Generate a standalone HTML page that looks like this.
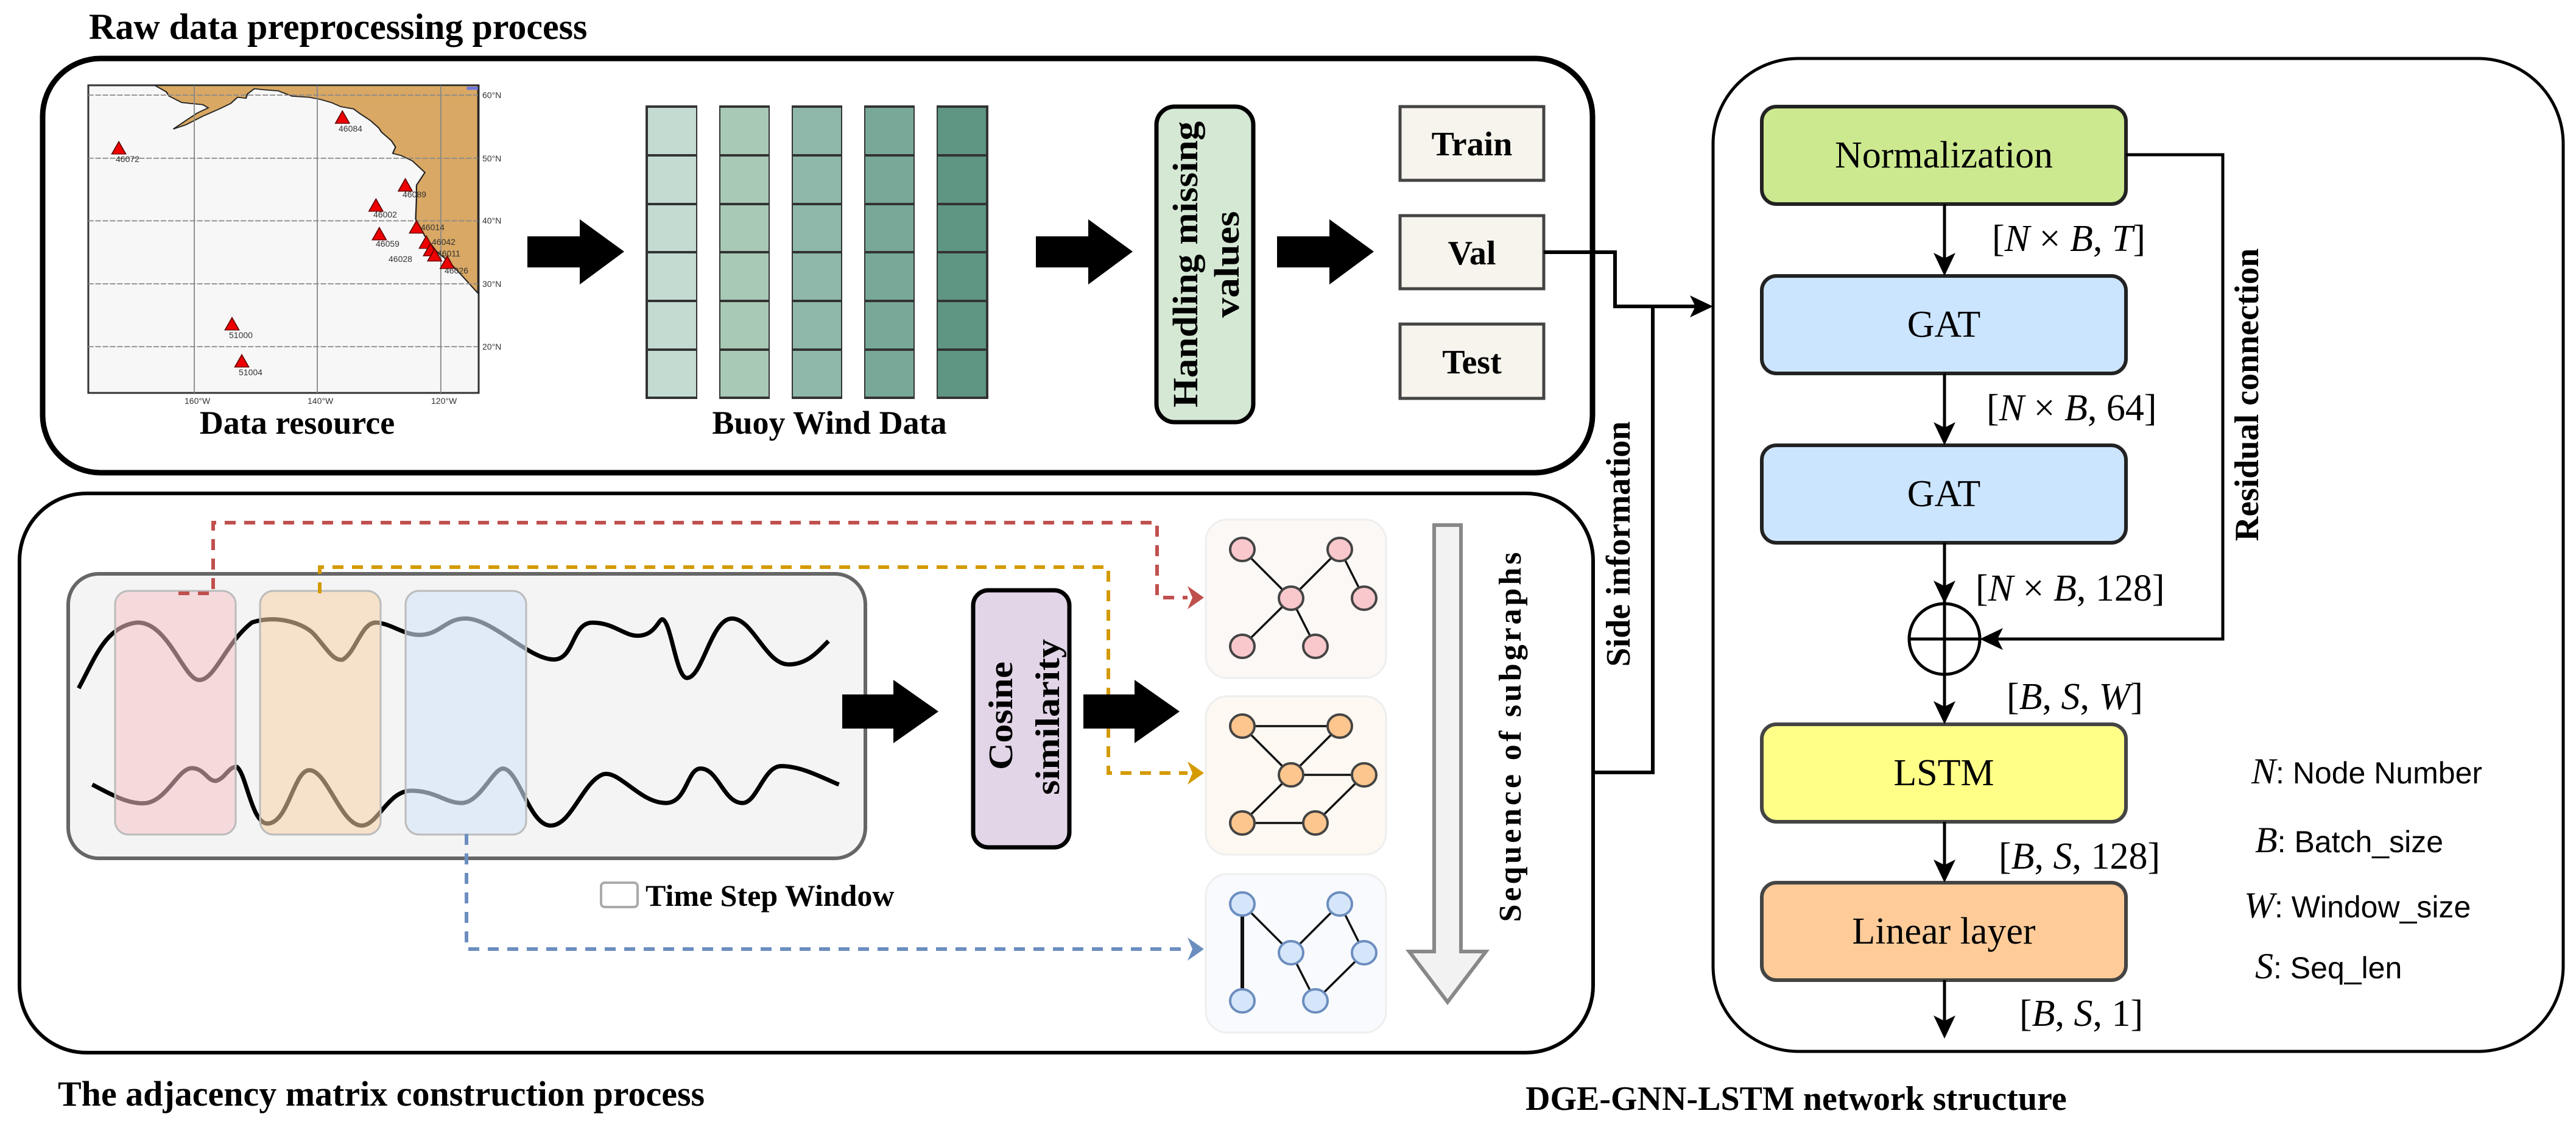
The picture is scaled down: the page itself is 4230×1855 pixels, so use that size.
<!DOCTYPE html>
<html><head><meta charset="utf-8"><style>
html,body{margin:0;padding:0;background:#fff}
svg{display:block}
.t{font-family:"Liberation Serif",serif;font-weight:bold}
.s{font-family:"Liberation Serif",serif}
.m{font-family:"Liberation Serif",serif;font-style:italic}
.sa{font-family:"Liberation Sans",sans-serif}
</style></head><body>
<svg width="4230" height="1855" viewBox="0 0 4230 1855" xmlns="http://www.w3.org/2000/svg">

<!-- Titles -->
<text x="146" y="64" class="t" font-size="60">Raw data preprocessing process</text>
<text x="95" y="1815" class="t" font-size="58">The adjacency matrix construction process</text>
<text x="2505" y="1822" class="t" font-size="56">DGE-GNN-LSTM network structure</text>

<!-- Top box -->
<rect x="70" y="96" width="2545" height="680" rx="95" fill="#fff" stroke="#000" stroke-width="9"/>

<!-- Map -->
<rect x="145" y="140" width="641" height="505" fill="#f7f7f7" stroke="#333" stroke-width="3"/>
<g transform="translate(140,130) scale(0.459,0.348)">
<path d="M250,30 L290,60 L300,80 L345,110 L380,115 L420,120 L440,135 L400,160 L360,195 L315,235 L360,215 L420,175 L480,140 L520,115 L545,85 L575,90 L580,70 L605,45 L640,50 L690,55 L740,80 L800,85 L840,95 L880,110 L915,130 L960,140 L980,160 L1020,195 L1050,230 L1060,250 L1095,290 L1110,320 L1100,350 L1130,360 L1170,385 L1215,440 L1200,470 L1185,500 L1185,560 L1182,660 L1215,740 L1255,810 L1300,860 L1350,930 L1405,1010 L1405,30 Z" fill="#d9a864" stroke="#222" stroke-width="5"/>
<g stroke="#888" stroke-width="5" stroke-dasharray="20,6" fill="none">
<line x1="10" y1="75" x2="1405" y2="75"/><line x1="10" y1="373" x2="1405" y2="373"/><line x1="10" y1="668" x2="1405" y2="668"/><line x1="10" y1="965" x2="1405" y2="965"/><line x1="10" y1="1262" x2="1405" y2="1262"/>
</g>
<g stroke="#888" stroke-width="4" fill="none">
<line x1="390" y1="30" x2="390" y2="1480"/><line x1="830" y1="30" x2="830" y2="1480"/><line x1="1272" y1="30" x2="1272" y2="1480"/>
</g>
<g fill="#e00" stroke="#600" stroke-width="4">
<path d="M920,150 l-25,58 h50 z"/><path d="M120,295 l-25,58 h50 z"/><path d="M1145,470 l-25,58 h50 z"/><path d="M1040,565 l-25,58 h50 z"/><path d="M1185,668 l-25,58 h50 z"/><path d="M1052,700 l-25,58 h50 z"/><path d="M1220,740 l-25,58 h50 z"/><path d="M1235,775 l-25,58 h50 z"/><path d="M1250,800 l-25,58 h50 z"/><path d="M1295,835 l-25,58 h50 z"/><path d="M525,1125 l-25,58 h50 z"/><path d="M560,1300 l-25,58 h50 z"/>
</g>
<rect x="1365" y="35" width="40" height="15" fill="#6b78e0"/>
</g>
<g class="sa" font-size="14" fill="#333">
<text x="190" y="266">46072</text><text x="556" y="216">46084</text><text x="661" y="324">46089</text><text x="613" y="357">46002</text><text x="691" y="378">46014</text><text x="617" y="405">46059</text><text x="709" y="402">46042</text><text x="718" y="421">46011</text><text x="638" y="430">46028</text><text x="730" y="449">46026</text><text x="376" y="555">51000</text><text x="392" y="616">51004</text>
<text x="792" y="161">60°N</text><text x="792" y="265">50°N</text><text x="792" y="367">40°N</text><text x="792" y="471">30°N</text><text x="792" y="574">20°N</text>
<text x="303" y="663">160°W</text><text x="505" y="663">140°W</text><text x="708" y="663">120°W</text>
</g>
<text x="488" y="712" class="t" font-size="54" text-anchor="middle">Data resource</text>

<!-- Block arrows top -->
<g fill="#000">
<path d="M866,388 H952 V360 L1025,413 L952,467 V439 H866 Z"/>
<path d="M1701,388 H1787 V360 L1860,413 L1787,467 V439 H1701 Z"/>
<path d="M2097,388 H2183 V360 L2256,413 L2183,467 V439 H2097 Z"/>
</g>

<!-- Buoy columns -->
<g stroke="#333" stroke-width="4">
<rect x="1062" y="175" width="83" height="478" fill="#c4dbd2"/>
<rect x="1181" y="175" width="83" height="478" fill="#a8c9b5"/>
<rect x="1300" y="175" width="83" height="478" fill="#8fb8aa"/>
<rect x="1419" y="175" width="83" height="478" fill="#78a898"/>
<rect x="1538" y="175" width="83" height="478" fill="#5e9583"/>
</g>
<g stroke="#333" stroke-width="4">
<path d="M1062,255 H1621 M1062,335 H1621 M1062,414 H1621 M1062,494 H1621 M1062,574 H1621"/>
</g>
<rect x="1145" y="170" width="36" height="490" fill="#fff"/><rect x="1264" y="170" width="36" height="490" fill="#fff"/><rect x="1383" y="170" width="36" height="490" fill="#fff"/><rect x="1502" y="170" width="36" height="490" fill="#fff"/>
<text x="1362" y="712" class="t" font-size="54" text-anchor="middle">Buoy Wind Data</text>

<!-- Handling missing values -->
<rect x="1899" y="175" width="159" height="518" rx="30" fill="#d5e8d4" stroke="#000" stroke-width="7"/>
<g class="t" font-size="58" text-anchor="middle">
<text transform="translate(1966,434) rotate(-90)" textLength="470" lengthAdjust="spacingAndGlyphs">Handling missing</text>
<text transform="translate(2034,434) rotate(-90)" textLength="175" lengthAdjust="spacingAndGlyphs">values</text>
</g>

<!-- Train / Val / Test -->
<g fill="#f6f4ec" stroke="#444" stroke-width="5">
<rect x="2299" y="175" width="236" height="121"/>
<rect x="2299" y="354" width="236" height="120"/>
<rect x="2299" y="532" width="236" height="122"/>
</g>
<g class="t" font-size="56" text-anchor="middle">
<text x="2417" y="255">Train</text><text x="2417" y="434">Val</text><text x="2417" y="613">Test</text>
</g>

<!-- Bottom box -->
<rect x="32" y="810" width="2584" height="918" rx="110" fill="#fff" stroke="#000" stroke-width="6"/>

<!-- gray container -->
<rect x="112" y="942" width="1309" height="467" rx="50" fill="#f4f4f4" stroke="#666" stroke-width="6"/>

<!-- waves -->
<g transform="translate(0,800) scale(1.722,0.673)" fill="none" stroke="#000" stroke-width="7" stroke-linejoin="round">
<path vector-effect="non-scaling-stroke" d="M75,490 C90,420 100,340 130,330 C160,325 175,470 190,470 C205,470 215,380 240,330 C262,310 290,330 300,360 C312,395 318,425 327,420 C340,400 345,325 360,330 C375,335 385,360 400,360 C420,360 425,318 445,320 C470,322 505,420 528,420 C548,420 545,330 565,330 C585,330 595,362 608,362 C625,362 628,320 632,322 C640,330 645,465 655,465 C670,465 678,320 698,320 C718,320 730,432 752,432 C770,432 780,400 790,375"/>
<path vector-effect="non-scaling-stroke" d="M88,725 C110,755 125,775 140,770 C160,760 170,685 183,685 C195,685 198,718 206,716 C215,710 218,680 226,682 C235,700 240,820 255,820 C275,820 280,690 295,690 C312,690 325,825 345,825 C360,825 370,740 392,740 C415,740 425,770 440,770 C458,770 470,685 480,686 C495,690 505,825 525,825 C545,825 555,720 575,700 C590,688 610,770 635,770 C655,770 655,686 668,686 C685,686 690,770 708,770 C722,770 728,680 745,680 C765,680 785,710 800,725"/>
</g>

<!-- windows -->
<rect x="189" y="970" width="198" height="400" rx="22" fill="#f5c4c8" fill-opacity="0.55" stroke="#bbb" stroke-width="3"/>
<rect x="427" y="970" width="198" height="400" rx="22" fill="#f8d2a8" fill-opacity="0.55" stroke="#bbb" stroke-width="3"/>
<rect x="666" y="970" width="198" height="400" rx="22" fill="#d2e5f8" fill-opacity="0.6" stroke="#bbb" stroke-width="3"/>

<!-- dashed connectors -->
<g fill="none" stroke-width="6" stroke-dasharray="18,14">
<path d="M293,974 H350 V858 H1900 V981 H1950" stroke="#c0504d"/>
<path d="M525,974 V931 H1820 V1269 H1950" stroke="#d49a00"/>
<path d="M766,1369 V1558 H1950" stroke="#6c8ebf"/>
</g>
<path d="M1950,962 L1977,981 L1950,1000 L1958,981 Z" fill="#c0504d"/>
<path d="M1950,1250 L1977,1269 L1950,1288 L1958,1269 Z" fill="#d49a00"/>
<path d="M1950,1539 L1977,1558 L1950,1577 L1958,1558 Z" fill="#6c8ebf"/>

<!-- arrows bottom -->
<g fill="#000">
<path d="M1383,1140 H1467 V1116 L1541,1168 L1467,1220 V1196 H1383 Z"/>
<path d="M1779,1140 H1863 V1116 L1937,1168 L1863,1220 V1196 H1779 Z"/>
</g>

<!-- cosine -->
<rect x="1598" y="969" width="158" height="422" rx="25" fill="#e1d5e7" stroke="#000" stroke-width="7"/>
<g class="t" font-size="56" text-anchor="middle">
<text transform="translate(1662,1175) rotate(-90)" textLength="178" lengthAdjust="spacingAndGlyphs">Cosine</text>
<text transform="translate(1739,1177) rotate(-90)" textLength="256" lengthAdjust="spacingAndGlyphs">similarity</text>
</g>

<!-- Time step window legend -->
<rect x="987" y="1449" width="60" height="40" rx="6" fill="#fff" stroke="#aaa" stroke-width="4"/>
<text x="1060" y="1487" class="t" font-size="50">Time Step Window</text>

<!-- subgraph panels -->
<rect x="1980" y="853" width="296" height="260" rx="35" fill="#fcf8f6" stroke="#eee" stroke-width="3"/>
<rect x="1980" y="1143" width="296" height="260" rx="35" fill="#fdf8f2" stroke="#eee" stroke-width="3"/>
<rect x="1980" y="1435" width="296" height="260" rx="35" fill="#f8fafd" stroke="#eee" stroke-width="3"/>
<g transform="translate(1980,853)">
<g stroke="#111" stroke-width="3.5"><line x1="60" y1="49" x2="140" y2="129"/><line x1="220" y1="49" x2="140" y2="129"/><line x1="220" y1="49" x2="260" y2="129"/><line x1="140" y1="129" x2="60" y2="208"/><line x1="140" y1="129" x2="180" y2="208"/></g>
<g fill="#f8c8cc" stroke="#444" stroke-width="4"><ellipse cx="60" cy="49" rx="20" ry="19"/><ellipse cx="220" cy="49" rx="20" ry="19"/><ellipse cx="140" cy="129" rx="20" ry="19"/><ellipse cx="260" cy="129" rx="20" ry="19"/><ellipse cx="60" cy="208" rx="20" ry="19"/><ellipse cx="180" cy="208" rx="20" ry="19"/></g>
</g>
<g transform="translate(1980,1143)">
<g stroke="#111" stroke-width="3.5"><line x1="60" y1="49" x2="220" y2="49"/><line x1="60" y1="49" x2="140" y2="129"/><line x1="220" y1="49" x2="140" y2="129"/><line x1="140" y1="129" x2="260" y2="129"/><line x1="140" y1="129" x2="60" y2="208"/><line x1="60" y1="208" x2="180" y2="208"/><line x1="180" y1="208" x2="260" y2="129"/></g>
<g fill="#fdc68e" stroke="#444" stroke-width="4"><ellipse cx="60" cy="49" rx="20" ry="19"/><ellipse cx="220" cy="49" rx="20" ry="19"/><ellipse cx="140" cy="129" rx="20" ry="19"/><ellipse cx="260" cy="129" rx="20" ry="19"/><ellipse cx="60" cy="208" rx="20" ry="19"/><ellipse cx="180" cy="208" rx="20" ry="19"/></g>
</g>
<g transform="translate(1980,1435)">
<g stroke="#111" stroke-width="3.5"><line x1="60" y1="49" x2="60" y2="208" stroke-width="6"/><line x1="60" y1="49" x2="140" y2="129"/><line x1="220" y1="49" x2="140" y2="129"/><line x1="220" y1="49" x2="260" y2="129"/><line x1="140" y1="129" x2="180" y2="208"/><line x1="180" y1="208" x2="260" y2="129"/></g>
<g fill="#d6e6fa" stroke="#6c8ebf" stroke-width="4"><ellipse cx="60" cy="49" rx="20" ry="19"/><ellipse cx="220" cy="49" rx="20" ry="19"/><ellipse cx="140" cy="129" rx="20" ry="19"/><ellipse cx="260" cy="129" rx="20" ry="19"/><ellipse cx="60" cy="208" rx="20" ry="19"/><ellipse cx="180" cy="208" rx="20" ry="19"/></g>
</g>

<!-- sequence big arrow -->
<path d="M2355,862 H2399 V1562 H2440 L2377,1645 L2314,1562 H2355 Z" fill="#f2f2f2" stroke="#888" stroke-width="6"/>
<text transform="translate(2497,1210) rotate(-90)" class="t" font-size="52" text-anchor="middle" textLength="607" lengthAdjust="spacing">Sequence of subgraphs</text>

<!-- side information connectors -->
<g fill="none" stroke="#000" stroke-width="6">
<path d="M2535,414 H2652 V503 H2795"/>
<path d="M2714,503 V1268 H2617"/>
</g>
<path d="M2775,485 L2813,503 L2775,521 L2784,503 Z" fill="#000"/>
<text transform="translate(2676,893) rotate(-90)" class="t" font-size="56" text-anchor="middle">Side information</text>

<!-- Right box -->
<rect x="2813" y="96" width="1396" height="1630" rx="140" fill="#fff" stroke="#000" stroke-width="5"/>

<!-- network blocks -->
<rect x="2893" y="175" width="598" height="160" rx="24" fill="#cde98f" stroke="#222" stroke-width="6"/>
<rect x="2893" y="453" width="598" height="160" rx="24" fill="#cce5ff" stroke="#222" stroke-width="6"/>
<rect x="2893" y="731" width="598" height="160" rx="24" fill="#cce5ff" stroke="#222" stroke-width="6"/>
<rect x="2893" y="1189" width="598" height="160" rx="24" fill="#ffff88" stroke="#444" stroke-width="6"/>
<rect x="2893" y="1449" width="598" height="160" rx="24" fill="#ffcc99" stroke="#444" stroke-width="6"/>
<g class="s" font-size="62" text-anchor="middle">
<text x="3192" y="275">Normalization</text>
<text x="3192" y="553">GAT</text>
<text x="3192" y="831">GAT</text>
<text x="3192" y="1289">LSTM</text>
<text x="3192" y="1549">Linear layer</text>
</g>

<!-- vertical arrows -->
<g stroke="#000" stroke-width="5" fill="none">
<line x1="3193" y1="335" x2="3193" y2="430"/>
<line x1="3193" y1="613" x2="3193" y2="708"/>
<line x1="3193" y1="891" x2="3193" y2="991"/>
<line x1="3193" y1="1109" x2="3193" y2="1166"/>
<line x1="3193" y1="1349" x2="3193" y2="1426"/>
<line x1="3193" y1="1609" x2="3193" y2="1682"/>
<circle cx="3193" cy="1049" r="58"/>
<line x1="3135" y1="1049" x2="3251" y2="1049"/>
<line x1="3193" y1="991" x2="3193" y2="1107"/>
<path d="M3491,254 H3650 V1049 H3280"/>
</g>
<g fill="#000">
<path d="M3175,415 L3193,453 L3211,415 L3193,424 Z"/>
<path d="M3175,693 L3193,731 L3211,693 L3193,702 Z"/>
<path d="M3175,953 L3193,991 L3211,953 L3193,962 Z"/>
<path d="M3175,1151 L3193,1189 L3211,1151 L3193,1160 Z"/>
<path d="M3175,1411 L3193,1449 L3211,1411 L3193,1420 Z"/>
<path d="M3175,1667 L3193,1705 L3211,1667 L3193,1676 Z"/>
<path d="M3289,1031 L3251,1049 L3289,1067 L3280,1049 Z"/>
</g>
<text transform="translate(3708,648) rotate(-90)" class="t" font-size="56" text-anchor="middle">Residual connection</text>

<!-- dimension labels -->
<g class="s" font-size="62">
<text x="3271" y="412">[<tspan class="m">N</tspan> × <tspan class="m">B</tspan>, <tspan class="m">T</tspan>]</text>
<text x="3262" y="690">[<tspan class="m">N</tspan> × <tspan class="m">B</tspan>, 64]</text>
<text x="3244" y="986">[<tspan class="m">N</tspan> × <tspan class="m">B</tspan>, 128]</text>
<text x="3295" y="1164">[<tspan class="m">B</tspan>, <tspan class="m">S</tspan>, <tspan class="m">W</tspan>]</text>
<text x="3282" y="1426">[<tspan class="m">B</tspan>, <tspan class="m">S</tspan>, 128]</text>
<text x="3316" y="1684">[<tspan class="m">B</tspan>, <tspan class="m">S</tspan>, 1]</text>
</g>

<!-- legend -->
<g font-size="50">
<text x="3697" y="1286"><tspan class="m" font-size="60">N</tspan><tspan class="sa">: Node Number</tspan></text>
<text x="3703" y="1399"><tspan class="m" font-size="60">B</tspan><tspan class="sa">: Batch_size</tspan></text>
<text x="3685" y="1506"><tspan class="m" font-size="60">W</tspan><tspan class="sa">: Window_size</tspan></text>
<text x="3703" y="1606"><tspan class="m" font-size="60">S</tspan><tspan class="sa">: Seq_len</tspan></text>
</g>
</svg>
</body></html>
